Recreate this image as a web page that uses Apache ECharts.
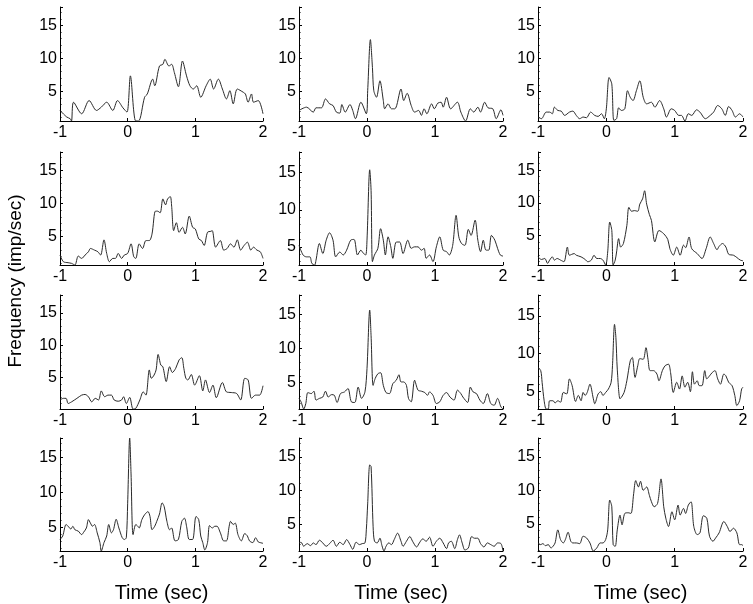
<!DOCTYPE html>
<html><head><meta charset="utf-8">
<script src="https://cdn.jsdelivr.net/npm/echarts@6/dist/echarts.min.js"></script>
<style>html,body{margin:0;padding:0;background:#fff}#c{width:753px;height:604px}</style>
</head><body><div id="c"></div>
<script>
const xTicks = [-1, 0, 1, 2];
const yTicks = [5, 10, 15];
const xTitle = 'Time (sec)';
const yTitle = 'Frequency (imp/sec)';

const p1 = [[-1,2.1],[-0.9,1.1],[-0.85,0.85],[-0.83,0.5],[-0.8,3.35],[-0.68,1.6],[-0.57,3.6],[-0.46,2.1],[-0.39,2.6],[-0.31,3.35],[-0.22,2.1],[-0.15,3.6],[-0.07,2.5],[-0.01,1.85],[0.04,7.35],[0.11,0.6],[0.16,0.5],[0.25,4.1],[0.29,4.6],[0.37,6.85],[0.4,5.85],[0.47,8.85],[0.52,9.1],[0.55,9.85],[0.61,8.85],[0.65,9.1],[0.69,7.85],[0.75,5.7],[0.81,9.6],[0.87,7.35],[0.92,5.85],[0.97,5.35],[1.02,5.85],[1.08,4.1],[1.16,5.85],[1.22,6.85],[1.27,5.35],[1.34,6.85],[1.4,5.35],[1.46,3.85],[1.51,5.1],[1.56,3.1],[1.62,5.35],[1.71,4.85],[1.74,4.6],[1.78,3.35],[1.83,4.6],[1.86,3.35],[1.93,3.6],[2,1.6]];
const p2 = [[-1,2.1],[-0.89,2.6],[-0.79,1.85],[-0.75,2.5],[-0.67,2.5],[-0.61,3.85],[-0.55,3.1],[-0.5,2.85],[-0.45,1.85],[-0.4,1.7],[-0.37,3.0],[-0.32,1.85],[-0.25,3.0],[-0.21,2.1],[-0.17,0.85],[-0.09,3.35],[-0.01,1.6],[0.01,5.1],[0.05,12.85],[0.08,8.6],[0.1,5.1],[0.14,4.1],[0.19,6.6],[0.24,3.6],[0.26,2.35],[0.31,3.1],[0.36,2.35],[0.41,2.35],[0.5,5.35],[0.54,3.6],[0.59,4.7],[0.65,2.85],[0.7,1.85],[0.76,2.1],[0.8,1.35],[0.84,2.35],[0.88,1.6],[0.95,3.1],[0.99,2.35],[1.04,3.2],[1.09,3.35],[1.12,2.6],[1.17,4.1],[1.23,2.35],[1.33,3.35],[1.38,1.85],[1.45,0.5],[1.52,2.35],[1.57,1.85],[1.63,2.6],[1.67,1.85],[1.73,3.35],[1.78,2.5],[1.85,2.35],[1.9,0.85],[1.97,2.2],[2,1.35]];
const p3 = [[-1,1.1],[-0.95,0.85],[-0.88,1.85],[-0.83,1.85],[-0.79,1.6],[-0.76,2.6],[-0.71,2.1],[-0.66,2.0],[-0.61,1.35],[-0.54,1.85],[-0.49,2.0],[-0.44,1.35],[-0.39,0.85],[-0.34,1.1],[-0.29,1.0],[-0.23,1.85],[-0.17,1.35],[-0.12,1.2],[-0.07,1.6],[-0.03,0.85],[0,2.35],[0.04,7.1],[0.08,6.1],[0.11,0.6],[0.15,0.85],[0.18,2.5],[0.22,2.1],[0.27,2.35],[0.31,5.1],[0.35,4.1],[0.39,3.6],[0.44,5.1],[0.49,6.6],[0.54,4.1],[0.59,3.1],[0.66,3.35],[0.71,2.6],[0.78,3.6],[0.84,2.35],[0.88,1.1],[0.95,2.35],[1.0,2.1],[1.06,1.35],[1.1,1.35],[1.15,0.5],[1.2,1.6],[1.25,1.35],[1.32,2.2],[1.37,1.85],[1.45,0.85],[1.52,1.35],[1.57,1.85],[1.63,2.85],[1.69,2.35],[1.74,1.35],[1.79,2.7],[1.84,2.1],[1.89,1.1],[1.95,1.6],[2,1.1]];
const p4 = [[-1,2.2],[-0.95,1.2],[-0.88,1.05],[-0.83,0.95],[-0.78,0.7],[-0.73,2.05],[-0.68,1.7],[-0.63,2.2],[-0.58,2.7],[-0.55,3.2],[-0.49,2.95],[-0.44,2.7],[-0.4,2.2],[-0.35,4.5],[-0.31,2.45],[-0.27,1.2],[-0.22,1.7],[-0.18,1.7],[-0.14,2.45],[-0.09,1.7],[-0.05,2.2],[0,2.45],[0.05,3.9],[0.09,1.95],[0.12,1.7],[0.17,3.9],[0.22,3.2],[0.27,4.4],[0.32,4.4],[0.36,5.4],[0.41,8.85],[0.44,8.85],[0.48,8.6],[0.52,10.7],[0.56,9.8],[0.59,10.7],[0.63,11.05],[0.65,9.6],[0.68,5.9],[0.72,7.1],[0.76,5.65],[0.81,6.4],[0.85,5.4],[0.91,8.1],[0.96,6.4],[1.0,6.15],[1.05,4.65],[1.09,4.4],[1.13,3.65],[1.18,5.65],[1.23,5.8],[1.25,5.9],[1.3,3.4],[1.37,4.4],[1.42,2.95],[1.47,3.2],[1.52,3.9],[1.57,3.4],[1.62,4.5],[1.67,2.95],[1.72,3.65],[1.77,4.15],[1.82,2.95],[1.86,3.4],[1.91,2.95],[1.96,2.7],[2,1.7]];
const p5 = [[-1,5.2],[-0.94,3.9],[-0.89,3.65],[-0.84,3.65],[-0.81,2.75],[-0.77,2.55],[-0.75,3.2],[-0.7,5.45],[-0.65,4.1],[-0.6,5.9],[-0.55,6.9],[-0.5,5.9],[-0.46,3.65],[-0.4,4.3],[-0.35,3.9],[-0.3,4.55],[-0.24,5.9],[-0.19,6.0],[-0.14,3.9],[-0.09,4.55],[-0.06,4.2],[-0.02,3.9],[0,5.9],[0.04,15.4],[0.06,12.6],[0.08,3.0],[0.11,3.9],[0.16,4.8],[0.2,7.45],[0.24,5.9],[0.27,3.9],[0.31,6.35],[0.35,5.0],[0.38,3.45],[0.43,5.65],[0.48,5.65],[0.53,4.1],[0.6,5.9],[0.65,4.8],[0.7,5.0],[0.75,5.0],[0.8,4.55],[0.84,4.8],[0.87,3.45],[0.92,3.9],[0.97,3.0],[1.02,5.0],[1.07,6.35],[1.12,4.55],[1.17,4.35],[1.21,3.9],[1.26,5.2],[1.31,9.25],[1.35,6.35],[1.39,5.45],[1.44,5.2],[1.49,7.35],[1.53,6.55],[1.59,8.6],[1.63,5.9],[1.67,4.35],[1.71,5.9],[1.75,4.55],[1.79,4.55],[1.83,6.55],[1.88,5.9],[1.92,4.8],[1.96,3.9],[2,3.75]];
const p6 = [[-1,1.7],[-0.95,1.3],[-0.9,1.45],[-0.86,0.7],[-0.83,1.2],[-0.79,1.7],[-0.76,1.2],[-0.72,1.45],[-0.67,1.2],[-0.62,0.95],[-0.57,3.2],[-0.54,1.95],[-0.47,2.2],[-0.44,1.95],[-0.37,1.7],[-0.31,1.3],[-0.27,0.95],[-0.22,1.2],[-0.18,1.95],[-0.14,1.45],[-0.09,1.45],[-0.05,1.2],[-0.01,0.45],[0.02,2.45],[0.05,7.05],[0.08,5.75],[0.1,0.45],[0.13,1.2],[0.15,2.45],[0.18,4.5],[0.21,3.2],[0.25,3.75],[0.3,6.5],[0.33,9.3],[0.37,8.7],[0.41,8.8],[0.46,8.7],[0.49,9.8],[0.53,10.6],[0.56,11.85],[0.59,9.8],[0.63,8.2],[0.66,7.3],[0.71,4.0],[0.77,5.75],[0.84,5.25],[0.9,4.35],[0.93,2.95],[0.98,1.95],[1.03,3.2],[1.08,1.95],[1.13,3.5],[1.16,3.1],[1.21,4.75],[1.25,2.95],[1.33,2.2],[1.4,1.45],[1.46,2.95],[1.52,4.75],[1.57,3.75],[1.62,2.8],[1.65,3.3],[1.7,3.75],[1.75,3.2],[1.79,2.1],[1.86,1.95],[1.91,1.6],[1.96,1.2],[2,1.1]];
const p7 = [[-1,1.55],[-0.95,1.8],[-0.91,1.8],[-0.88,1.0],[-0.83,1.25],[-0.75,1.8],[-0.68,2.3],[-0.63,2.4],[-0.58,2.05],[-0.53,1.25],[-0.48,1.8],[-0.43,1.55],[-0.39,2.95],[-0.34,2.05],[-0.29,2.3],[-0.24,2.3],[-0.2,1.55],[-0.14,1.35],[-0.09,1.55],[-0.06,2.05],[-0.02,1.0],[0.03,1.95],[0.08,0.15],[0.12,0.25],[0.18,1.55],[0.23,2.8],[0.27,2.3],[0.32,6.2],[0.35,4.9],[0.39,5.4],[0.42,6.2],[0.45,8.6],[0.49,6.95],[0.52,6.7],[0.57,4.4],[0.62,6.7],[0.66,5.8],[0.71,6.45],[0.76,7.75],[0.8,8.1],[0.83,6.45],[0.86,4.9],[0.89,4.65],[0.94,5.5],[0.99,3.85],[1.06,5.3],[1.11,2.95],[1.15,4.65],[1.21,2.7],[1.26,3.85],[1.31,1.9],[1.4,4.25],[1.46,2.8],[1.53,2.7],[1.61,2.55],[1.67,1.55],[1.73,4.9],[1.78,4.65],[1.83,1.8],[1.89,2.3],[1.95,2.3],[2,3.75]];
const p8 = [[-1,2.7],[-0.97,2.2],[-0.93,1.15],[-0.9,1.95],[-0.87,3.55],[-0.82,3.4],[-0.78,3.75],[-0.75,2.45],[-0.7,2.7],[-0.65,2.9],[-0.61,3.75],[-0.57,2.9],[-0.52,3.25],[-0.48,3.15],[-0.44,2.1],[-0.39,3.4],[-0.33,3.65],[-0.28,4.15],[-0.23,2.2],[-0.18,2.1],[-0.13,4.35],[-0.08,2.7],[-0.03,3.65],[0,7.05],[0.04,15.6],[0.06,11.85],[0.09,4.6],[0.12,5.6],[0.16,6.3],[0.2,6.45],[0.24,4.6],[0.28,3.55],[0.33,3.4],[0.38,4.85],[0.43,5.35],[0.47,6.15],[0.5,5.1],[0.54,5.1],[0.58,4.6],[0.61,2.7],[0.65,2.2],[0.7,5.35],[0.75,3.9],[0.8,3.75],[0.85,3.55],[0.89,3.15],[0.92,3.65],[0.97,3.15],[1.02,1.95],[1.07,2.2],[1.12,3.15],[1.17,3.55],[1.22,2.9],[1.28,2.45],[1.33,3.9],[1.38,3.4],[1.41,2.9],[1.48,2.1],[1.52,4.35],[1.56,3.65],[1.61,3.4],[1.66,2.45],[1.71,1.95],[1.77,3.4],[1.82,1.95],[1.87,1.7],[1.92,2.7],[1.97,1.45],[2,1.15]];
const p9 = [[-1,8.15],[-0.96,7.75],[-0.94,6.2],[-0.91,3.75],[-0.88,2.65],[-0.85,2.65],[-0.83,3.75],[-0.78,3.75],[-0.75,3.45],[-0.71,3.75],[-0.67,3.55],[-0.63,4.85],[-0.58,4.65],[-0.54,6.65],[-0.5,5.75],[-0.45,3.65],[-0.41,4.45],[-0.37,3.75],[-0.34,4.85],[-0.31,4.45],[-0.28,4.85],[-0.24,5.95],[-0.19,4.0],[-0.17,3.35],[-0.12,4.65],[-0.08,4.95],[-0.05,4.45],[-0.01,4.85],[0.03,5.3],[0.07,6.2],[0.09,8.4],[0.12,13.9],[0.14,12.15],[0.16,7.95],[0.2,4.0],[0.22,4.2],[0.26,4.85],[0.3,6.4],[0.35,9.05],[0.38,9.5],[0.42,6.85],[0.46,8.4],[0.49,9.35],[0.54,9.25],[0.58,10.8],[0.61,9.25],[0.64,7.75],[0.69,7.75],[0.74,7.3],[0.77,6.4],[0.82,7.75],[0.86,8.4],[0.91,8.6],[0.94,7.5],[0.98,4.85],[1.03,6.2],[1.07,5.3],[1.11,7.05],[1.15,5.55],[1.19,6.2],[1.23,4.95],[1.26,7.6],[1.29,5.95],[1.33,6.4],[1.36,5.75],[1.4,5.75],[1.44,7.75],[1.47,6.65],[1.51,7.05],[1.55,7.5],[1.59,7.75],[1.63,6.65],[1.67,5.95],[1.72,7.3],[1.75,7.05],[1.79,6.2],[1.84,5.75],[1.88,4.45],[1.91,3.1],[1.95,3.75],[1.98,5.3],[2,5.55]];
const p10 = [[-1,3.25],[-0.96,3.75],[-0.91,5.4],[-0.88,5.15],[-0.84,4.75],[-0.81,5.15],[-0.78,4.65],[-0.73,4.45],[-0.68,3.95],[-0.65,4.3],[-0.61,4.9],[-0.58,6.1],[-0.55,5.6],[-0.52,5.15],[-0.49,5.4],[-0.45,4.2],[-0.41,2.8],[-0.39,1.6],[-0.35,2.8],[-0.31,3.75],[-0.28,5.4],[-0.24,4.2],[-0.21,4.65],[-0.17,6.15],[-0.13,4.9],[-0.08,3.5],[-0.05,3.25],[-0.02,3.5],[0,8.45],[0.03,17.8],[0.05,12.65],[0.08,3.95],[0.12,5.4],[0.15,5.15],[0.17,4.9],[0.21,6.1],[0.25,6.8],[0.3,7.25],[0.33,6.55],[0.36,4.65],[0.4,5.15],[0.43,5.85],[0.47,6.9],[0.51,8.5],[0.54,7.95],[0.58,5.85],[0.62,4.65],[0.65,4.9],[0.7,3.05],[0.75,3.25],[0.8,5.85],[0.84,6.3],[0.87,5.15],[0.91,3.25],[0.96,3.25],[1.01,6.55],[1.05,6.1],[1.08,3.75],[1.11,2.8],[1.14,1.75],[1.18,2.8],[1.21,5.25],[1.25,4.9],[1.29,5.15],[1.32,5.15],[1.37,4.2],[1.42,3.05],[1.46,3.05],[1.5,5.15],[1.52,5.85],[1.56,5.4],[1.59,5.6],[1.63,3.95],[1.68,3.05],[1.73,4.1],[1.77,3.75],[1.8,3.05],[1.85,2.8],[1.89,3.5],[1.93,2.9],[1.96,2.8],[2,2.7]];
const p11 = [[-1,2.2],[-0.97,2.3],[-0.93,1.7],[-0.88,2.1],[-0.83,1.8],[-0.79,2.2],[-0.75,1.95],[-0.7,2.6],[-0.65,2.2],[-0.6,1.7],[-0.55,2.1],[-0.5,2.6],[-0.45,1.7],[-0.4,2.3],[-0.35,1.95],[-0.3,2.7],[-0.25,1.95],[-0.21,1.25],[-0.16,2.3],[-0.11,1.95],[-0.07,2.1],[-0.03,2.2],[-0.01,4.15],[0.01,8.0],[0.04,13.8],[0.06,13.55],[0.09,4.6],[0.11,2.45],[0.15,2.2],[0.19,2.9],[0.22,1.8],[0.25,1.0],[0.28,1.7],[0.32,2.2],[0.36,1.95],[0.4,2.7],[0.45,3.65],[0.5,2.45],[0.53,1.7],[0.58,2.45],[0.63,3.15],[0.67,2.45],[0.73,1.6],[0.77,2.2],[0.82,2.8],[0.87,2.45],[0.92,3.05],[0.97,1.7],[1.02,2.45],[1.07,2.9],[1.12,2.2],[1.17,1.35],[1.2,2.2],[1.24,2.45],[1.29,1.35],[1.33,2.7],[1.36,3.4],[1.4,2.2],[1.44,1.15],[1.49,1.45],[1.54,3.15],[1.58,2.9],[1.63,2.9],[1.67,2.1],[1.72,1.6],[1.77,2.2],[1.82,1.95],[1.87,1.7],[1.92,2.2],[1.97,2.1],[2,1.0]];
const p12 = [[-1,2.15],[-0.96,1.9],[-0.93,2.05],[-0.89,1.75],[-0.85,1.9],[-0.81,1.4],[-0.78,1.65],[-0.75,2.15],[-0.71,4.1],[-0.67,2.65],[-0.63,2.15],[-0.6,2.65],[-0.56,3.75],[-0.52,2.4],[-0.49,2.15],[-0.44,2.15],[-0.39,2.05],[-0.34,3.15],[-0.29,2.9],[-0.24,2.15],[-0.19,0.95],[-0.14,1.4],[-0.09,2.15],[-0.05,2.15],[-0.01,2.65],[0.02,4.1],[0.05,8.55],[0.08,7.55],[0.1,1.9],[0.13,1.65],[0.16,4.1],[0.2,6.3],[0.23,4.85],[0.27,6.55],[0.32,6.65],[0.36,6.55],[0.4,9.5],[0.43,11.45],[0.47,10.5],[0.5,11.35],[0.54,10.0],[0.59,10.5],[0.63,9.25],[0.66,8.3],[0.7,7.55],[0.75,8.05],[0.8,11.7],[0.84,7.55],[0.87,5.85],[0.91,4.6],[0.96,6.8],[1.0,5.6],[1.05,7.8],[1.08,6.3],[1.13,7.3],[1.16,6.55],[1.2,7.8],[1.24,8.3],[1.28,4.6],[1.33,3.4],[1.37,3.65],[1.42,6.2],[1.47,5.85],[1.51,3.15],[1.56,2.4],[1.6,2.9],[1.65,3.65],[1.72,5.35],[1.77,4.6],[1.81,3.85],[1.86,4.35],[1.91,3.65],[1.95,1.9],[1.98,1.9],[2,1.75]];

const panels = [p1, p2, p3, p4, p5, p6, p7, p8, p9, p10, p11, p12];
const lefts = [60, 299, 538], widths = [203, 204, 205];
const tops = [7, 152, 295, 438], heights = [114, 113, 114, 115];
const FONT = 'Liberation Sans, Arial, sans-serif';

const grid = [], xAxis = [], yAxis = [], series = [];
panels.forEach((d, i) => {
  const r = Math.floor(i / 3), c = i % 3;
  grid.push({ left: lefts[c], top: tops[r], width: widths[c], height: heights[r] });
  xAxis.push({
    type: 'value', gridIndex: i, min: xTicks[0], max: xTicks[xTicks.length - 1], interval: 1,
    axisLine: { onZero: false, lineStyle: { color: '#000', width: 1 } },
    axisTick: { inside: true, length: 3, lineStyle: { color: '#000' } },
    minorTick: { show: false },
    splitLine: { show: false },
    axisLabel: { color: '#000', fontSize: 16, fontFamily: FONT, margin: 4,
      formatter: v => xTicks.includes(Math.round(v)) ? String(Math.round(v)) : '' },
    name: r === 3 ? xTitle : '', nameLocation: 'middle', nameGap: 32,
    nameTextStyle: { color: '#000', fontSize: 20, fontFamily: FONT }
  });
  yAxis.push({
    type: 'value', gridIndex: i, min: 'dataMin', max: 17.8, splitNumber: 3,
    axisLine: { show: true, onZero: false, lineStyle: { color: '#000', width: 1 } },
    axisTick: { show: true, inside: true, length: 3, lineStyle: { color: '#000' } },
    minorTick: { show: true, splitNumber: 5, length: 1.5, lineStyle: { color: '#000' } },
    splitLine: { show: false },
    axisLabel: { color: '#000', fontSize: 16, fontFamily: FONT, margin: 3, showMinLabel: false, showMaxLabel: false,
      formatter: v => { const k = Math.round(v); return (Math.abs(v - k) < 1e-6 && yTicks.includes(k)) ? String(k) : ''; } }
  });
  series.push({
    type: 'line', xAxisIndex: i, yAxisIndex: i, data: d, showSymbol: false, smooth: 0.3,
    silent: true, lineStyle: { color: '#2a2a2a', width: 1 }
  });
});

const chart = echarts.init(document.getElementById('c'), null, { renderer: 'canvas' });
chart.setOption({
  animation: false,
  backgroundColor: '#fff',
  grid, xAxis, yAxis, series,
  graphic: [{
    type: 'text', x: 16, y: 281, rotation: Math.PI / 2,
    style: { text: yTitle, fill: '#000', font: '19px ' + FONT, textAlign: 'center', textVerticalAlign: 'middle' }
  }]
});
</script></body></html>
